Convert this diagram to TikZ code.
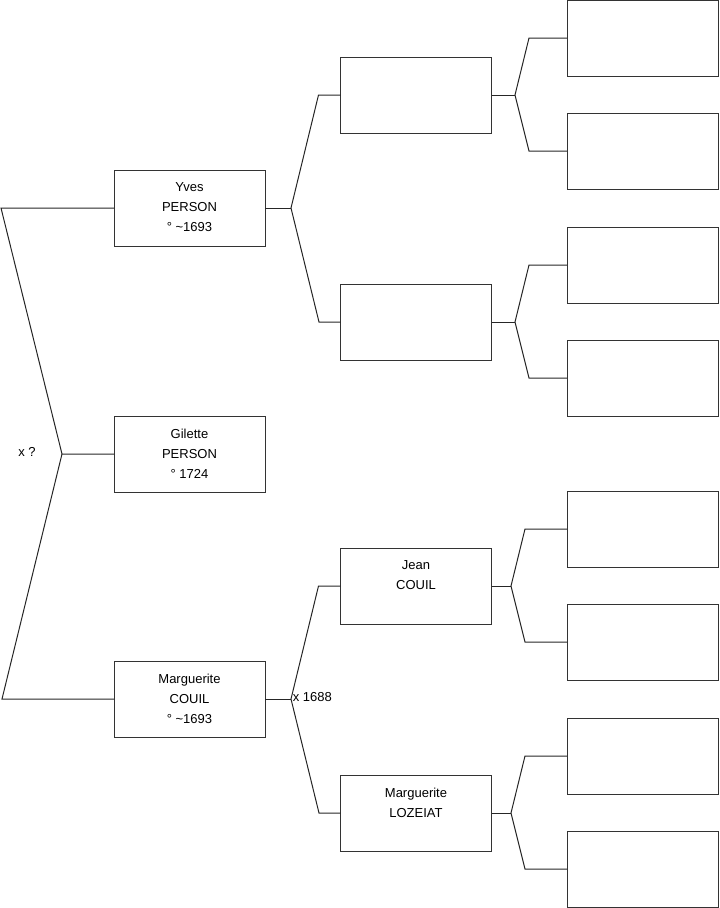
\documentclass[tikz,border=0pt]{standalone}
\usepackage{fontspec}
\setmainfont{Liberation Sans}
\begin{document}
\begin{tikzpicture}[x=0.75pt,y=-0.75pt,
  box/.style={draw=black!80, line width=0.75pt, minimum width=113.25pt, minimum height=57pt, inner sep=0pt, outer sep=0pt},
  txt/.style={font=\fontsize{9.75pt}{15pt}\selectfont, align=center, inner sep=0pt, anchor=north},
  lbl/.style={font=\fontsize{9.75pt}{15pt}\selectfont, inner sep=0pt, anchor=west},
  link/.style={draw=black!85, line width=0.75pt}]
\useasboundingbox (0,0) rectangle (719,908);
% column 1
\node[box] (y) at (189.5,208) {};
\node[box] (g) at (189.5,454) {};
\node[box] (m) at (189.5,699) {};
\node[txt] (yt) at ([yshift=-9.5pt]y.north) {Yves\\PERSON\\° \textasciitilde1693};
\node[txt] (gt) at ([yshift=-9.5pt]g.north) {Gilette\\PERSON\\° 1724};
\node[txt] (mt) at ([yshift=-9.5pt]m.north) {Marguerite\\COUIL\\° \textasciitilde1693};
% column 2
\node[box] (p1) at (416,95) {};
\node[box] (p2) at (416,322) {};
\node[box] (p3) at (416,586) {};
\node[box] (p4) at (416,813) {};
\node[txt] (p3t) at ([yshift=-9.5pt]p3.north) {Jean\\COUIL};
\node[txt] (p4t) at ([yshift=-9.5pt]p4.north) {Marguerite\\LOZEIAT};
% column 3
\foreach \n/\yy in {1/38,2/151,3/265,4/378,5/529,6/642,7/756,8/869}
  \node[box] (q\n) at (642.5,\yy) {};
% labels
\node[lbl] (lx) at (18,452) {x ?};
\node[lbl] (lm) at (292.5,697) {x 1688};
% left connector
\coordinate (a0) at (1,208);
\coordinate (j0) at (62,454);
\coordinate (b0) at (2,699);
\draw[link] (y.west) -- (a0) -- (j0) -- (g.west);
\draw[link] (j0) -- (b0) -- (m.west);
% column 1 -> 2
\coordinate (jy) at (291,208);
\coordinate (jm) at (291,699);
\draw[link] (y.east) -- (jy);
\draw[link] (p1.west) -- ++(-22,0) -- (jy) -- ++(28,114) -- (p2.west);
\draw[link] (m.east) -- (jm);
\draw[link] (p3.west) -- ++(-22,0) -- (jm) -- ++(28,114) -- (p4.west);
% column 2 -> 3
\coordinate (j1) at (515,95);
\coordinate (j2) at (515,322);
\coordinate (j3) at (511,586);
\coordinate (j4) at (511,813);
\draw[link] (p1.east) -- (j1);
\draw[link] (q1.west) -- ++(-38,0) -- (j1) -- ++(14,56) -- (q2.west);
\draw[link] (p2.east) -- (j2);
\draw[link] (q3.west) -- ++(-38,0) -- (j2) -- ++(14,56) -- (q4.west);
\draw[link] (p3.east) -- (j3);
\draw[link] (q5.west) -- ++(-42,0) -- (j3) -- ++(14,56) -- (q6.west);
\draw[link] (p4.east) -- (j4);
\draw[link] (q7.west) -- ++(-42,0) -- (j4) -- ++(14,56) -- (q8.west);
\end{tikzpicture}
\end{document}
